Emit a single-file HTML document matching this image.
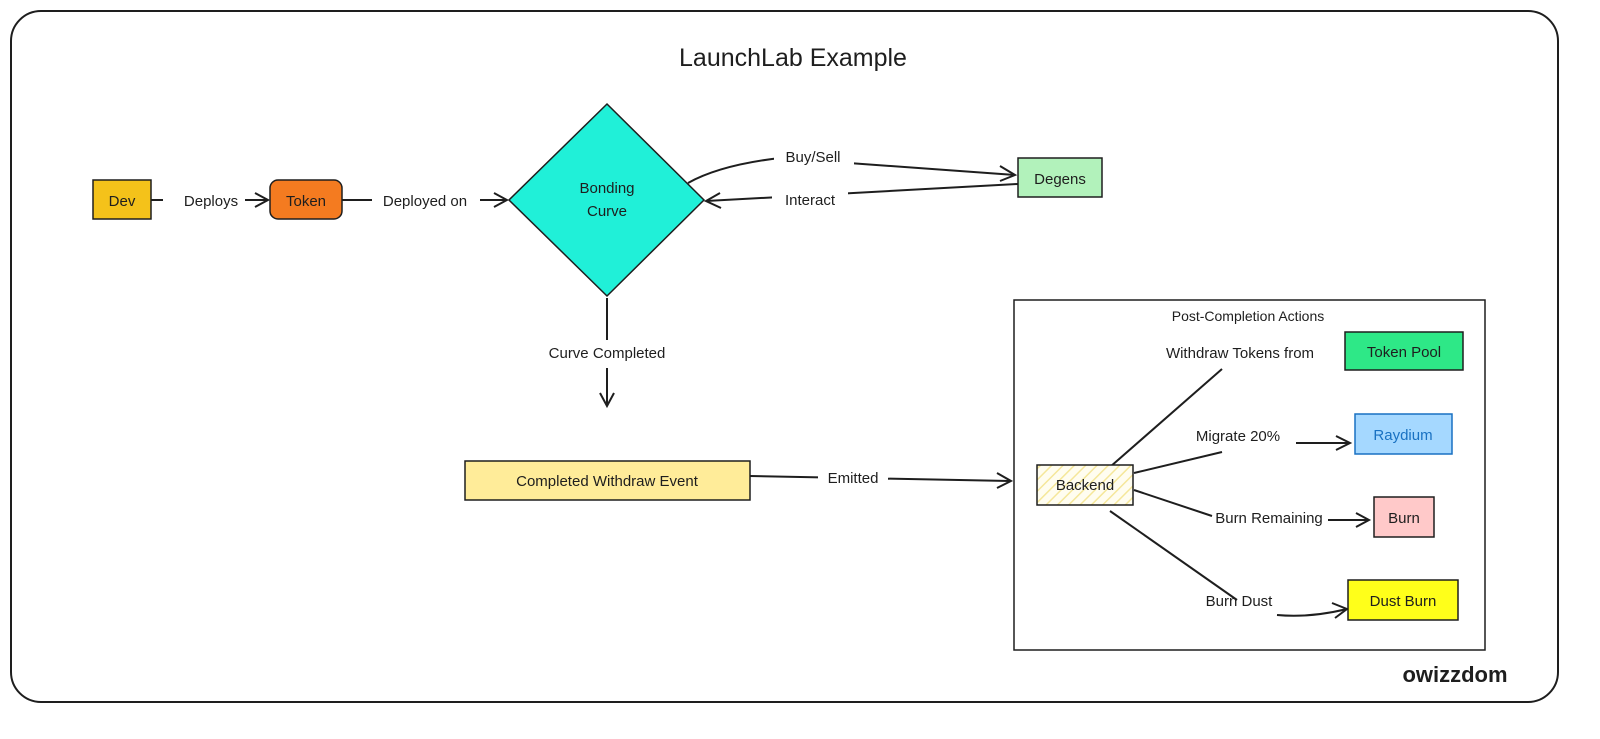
<!DOCTYPE html>
<html><head><meta charset="utf-8"><style>
html,body{margin:0;padding:0;background:#fff;}
svg{display:block;}
text{font-family:"Liberation Sans",sans-serif;fill:#1e1e1e;}
</style></head><body>
<svg width="1600" height="739" viewBox="0 0 1600 739" xmlns="http://www.w3.org/2000/svg">
<defs>
<pattern id="h" width="8" height="8" patternUnits="userSpaceOnUse" patternTransform="rotate(45)">
<rect width="8" height="8" fill="#fffdf0"/><line x1="0" y1="0" x2="0" y2="8" stroke="#f5e79a" stroke-width="3"/>
</pattern>
</defs>
<rect x="11" y="11" width="1547" height="691" rx="30" fill="#fff" stroke="#1e1e1e" stroke-width="2"/>
<text x="793" y="66" font-size="25" text-anchor="middle">LaunchLab Example</text>

<g stroke="#1e1e1e" stroke-width="2" fill="none">
<line x1="151" y1="200" x2="268" y2="200"/>
<polyline points="255,193 268,200 255,207"/>
<line x1="342" y1="200" x2="507" y2="200"/>
<polyline points="494,193 507,200 494,207"/>
<path d="M688,183 Q720,165 780,158 L1015,175"/>
<polyline points="1000,166 1015,175 1000,181"/>
<path d="M1018,184 L706,201"/>
<polyline points="720,193 706,201 721,208"/>
<line x1="607" y1="298" x2="607" y2="340"/>
<line x1="607" y1="368" x2="607" y2="406"/>
<polyline points="600,393 607,406 614,393"/>
<line x1="750" y1="476" x2="1010" y2="481"/>
<polyline points="997,473 1011,481 997,488"/>
<path d="M1110,467 L1222,369"/>
<path d="M1134,473 L1222,452"/>
<line x1="1296" y1="443" x2="1350" y2="443"/>
<polyline points="1336,436 1350,443 1336,450"/>
<path d="M1134,490 L1212,516"/>
<line x1="1328" y1="520" x2="1369" y2="520"/>
<polyline points="1356,513 1369,520 1356,527"/>
<path d="M1110,511 L1237,600"/>
<path d="M1277,615 Q1310,618 1347,609"/>
<polyline points="1332,603 1347,609 1335,618"/>
</g>

<rect x="93" y="180" width="58" height="39" fill="#f4c21a" stroke="#1e1e1e" stroke-width="1.5"/>
<text x="122" y="206" font-size="15" text-anchor="middle">Dev</text>
<rect x="163" y="190" width="82" height="20" fill="#fff"/>
<text x="211" y="206" font-size="15" text-anchor="middle">Deploys</text>
<rect x="270" y="180" width="72" height="39" rx="8" fill="#f47b20" stroke="#1e1e1e" stroke-width="1.5"/>
<text x="306" y="206" font-size="15" text-anchor="middle">Token</text>
<rect x="372" y="190" width="108" height="20" fill="#fff"/>
<text x="425" y="206" font-size="15" text-anchor="middle">Deployed on</text>

<polygon points="607,104 704,200 607,296 509,200" fill="#20f0d8" stroke="#1e1e1e" stroke-width="1.5"/>
<text x="607" y="193" font-size="15" text-anchor="middle">Bonding</text>
<text x="607" y="216" font-size="15" text-anchor="middle">Curve</text>

<rect x="774" y="146" width="80" height="20" fill="#fff"/>
<text x="813" y="162" font-size="15" text-anchor="middle">Buy/Sell</text>
<rect x="772" y="189" width="76" height="20" fill="#fff"/>
<text x="810" y="205" font-size="15" text-anchor="middle">Interact</text>
<rect x="1018" y="158" width="84" height="39" fill="#b2f2bb" stroke="#1e1e1e" stroke-width="1.5"/>
<text x="1060" y="184" font-size="15" text-anchor="middle">Degens</text>

<text x="607" y="358" font-size="15" text-anchor="middle">Curve Completed</text>

<rect x="465" y="461" width="285" height="39" fill="#ffec99" stroke="#1e1e1e" stroke-width="1.5"/>
<text x="607" y="486" font-size="15" text-anchor="middle">Completed Withdraw Event</text>
<rect x="818" y="468" width="70" height="20" fill="#fff"/>
<text x="853" y="483" font-size="15" text-anchor="middle">Emitted</text>

<rect x="1014" y="300" width="471" height="350" fill="none" stroke="#1e1e1e" stroke-width="1.5"/>
<text x="1248" y="321" font-size="14" text-anchor="middle">Post-Completion Actions</text>
<text x="1240" y="358" font-size="15" text-anchor="middle">Withdraw Tokens from</text>
<rect x="1345" y="332" width="118" height="38" fill="#2ee887" stroke="#1e1e1e" stroke-width="1.5"/>
<text x="1404" y="357" font-size="15" text-anchor="middle">Token Pool</text>
<text x="1238" y="441" font-size="15" text-anchor="middle">Migrate 20%</text>
<rect x="1355" y="414" width="97" height="40" fill="#a5d8ff" stroke="#1971c2" stroke-width="1.5"/>
<text x="1403" y="440" font-size="15" text-anchor="middle" style="fill:#1971c2">Raydium</text>
<rect x="1037" y="465" width="96" height="40" fill="url(#h)" stroke="#1e1e1e" stroke-width="1.5"/>
<text x="1085" y="490" font-size="15" text-anchor="middle">Backend</text>
<text x="1269" y="523" font-size="15" text-anchor="middle">Burn Remaining</text>
<rect x="1374" y="497" width="60" height="40" fill="#ffc9c9" stroke="#1e1e1e" stroke-width="1.5"/>
<text x="1404" y="523" font-size="15" text-anchor="middle">Burn</text>
<text x="1239" y="606" font-size="15" text-anchor="middle">Burn Dust</text>
<rect x="1348" y="580" width="110" height="40" fill="#ffff1a" stroke="#1e1e1e" stroke-width="1.5"/>
<text x="1403" y="606" font-size="15" text-anchor="middle">Dust Burn</text>

<text x="1455" y="682" font-size="22" font-weight="bold" text-anchor="middle">owizzdom</text>
</svg>
</body></html>
